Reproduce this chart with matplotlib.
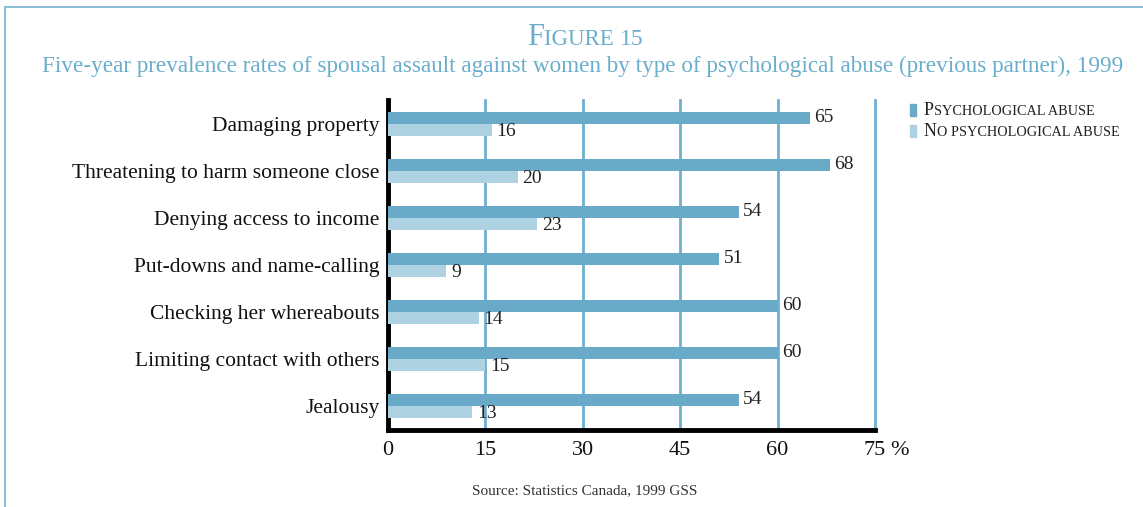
import matplotlib
matplotlib.use("Agg")
import matplotlib.pyplot as plt
from matplotlib.lines import Line2D
from matplotlib.patches import Rectangle

categories = ["Damaging property", "Threatening to harm someone close",
              "Denying access to income", "Put-downs and name-calling",
              "Checking her whereabouts", "Limiting contact with others",
              "Jealousy"]
psych = [65, 68, 54, 51, 60, 60, 54]
no_psych = [16, 20, 23, 9, 14, 15, 13]
xticks = [0, 15, 30, 45, 60, 75]
xtick_labels = ["0", "15", "30", "45", "60", "75"]

DARK = "#69aac8"
LIGHT = "#aed2e2"
GRID = "#6fb0cf"
TITLE = "#6aaecc"
SERIF = "Liberation Serif"

W, H = 1143, 507
fig = plt.figure(figsize=(W / 100, H / 100), dpi=100)
fig.patch.set_facecolor("white")

# frame lines (top and left only)
fig.add_artist(Line2D([5 / W, 1], [1 - 7 / H, 1 - 7 / H], color="#8cbfd6", lw=1.5))
fig.add_artist(Line2D([5 / W, 5 / W], [0, 1 - 7 / H], color="#8cbfd6", lw=1.5))

ax = fig.add_axes([388 / W, 1 - 430 / H, (875 - 388) / W, 330 / H])
pos = list(range(len(categories)))
bh = 0.255
ax.barh([p - bh / 2 for p in pos], psych, height=bh, color=DARK, zorder=3)
ax.barh([p + bh / 2 for p in pos], no_psych, height=bh, color=LIGHT, zorder=3)
for p, v in zip(pos, psych):
    ax.text(v + 0.7, p - bh / 2 - 0.02, str(v), va="center", ha="left",
            fontsize=14, family=SERIF, color="#222222", zorder=4)
for p, v in zip(pos, no_psych):
    ax.text(v + 0.7, p + bh / 2 + 0.04, str(v), va="center", ha="left",
            fontsize=14, family=SERIF, color="#222222", zorder=4)

ax.set_xlim(0, 75)
ax.set_ylim(len(categories) - 0.49, -0.51)
ax.set_xticks(xticks)
ax.set_xticklabels(xtick_labels, family=SERIF, fontsize=16)
ax.set_yticks(pos)
ax.set_yticklabels(categories, family=SERIF, fontsize=15.5)
ax.tick_params(axis="both", length=0, colors="#111111")
ax.tick_params(axis="x", pad=8)
ax.tick_params(axis="y", pad=6)
ax.grid(axis="x", color=GRID, lw=2, zorder=1)
ax.set_axisbelow(True)
for line in ax.get_xgridlines():
    line.set_clip_on(False)
for s in ["top", "right"]:
    ax.spines[s].set_visible(False)
for s in ["left", "bottom"]:
    ax.spines[s].set_linewidth(3.5)
    ax.spines[s].set_color("black")

# percent sign after the last tick label
ax.annotate("%", xy=(75, 0), xycoords=ax.get_xaxis_transform(),
            xytext=(11, -8), textcoords="offset points", ha="left", va="top",
            fontsize=16, family=SERIF, color="#111111")

fig.canvas.draw()
renderer = fig.canvas.get_renderer()


def small_caps(segments, x, y, color, ha="left"):
    """segments: list of (text, size); drawn side by side in pixel coords"""
    texts = []
    cx = 0
    for t, size in segments:
        txt = fig.text(0, y / H, t, fontsize=size, family=SERIF, color=color,
                       va="baseline", ha="left")
        w = txt.get_window_extent(renderer).width
        texts.append((txt, cx))
        cx += w
    start = x - cx / 2 if ha == "center" else x
    for txt, off in texts:
        txt.set_x((start + off) / W)


small_caps([("F", 22), ("IGURE ", 16.5), ("15", 17)], 585, H - 45, TITLE, ha="center")
fig.text(583 / W, 1 - 66 / H, "Five-year prevalence rates of spousal assault against women "
         "by type of psychological abuse (previous partner), 1999",
         ha="center", va="center", fontsize=16.7, family=SERIF, color=TITLE)

# legend
fig.add_artist(Rectangle((910 / W, 1 - 116 / H), 6 / W, 12 / H, color=DARK,
                         transform=fig.transFigure))
fig.add_artist(Rectangle((910 / W, 1 - 137 / H), 6 / W, 12 / H, color=LIGHT,
                         transform=fig.transFigure))
small_caps([("P", 13), ("SYCHOLOGICAL ABUSE", 10.3)], 924, H - 115, "#222222")
small_caps([("N", 13), ("O PSYCHOLOGICAL ABUSE", 10.3)], 924, H - 136, "#222222")

fig.text(585 / W, 1 - 491 / H, "Source: Statistics Canada, 1999 GSS", ha="center",
         va="center", fontsize=11, family=SERIF, color="#333333")

fig.savefig("out.png", dpi=100, facecolor="white")
